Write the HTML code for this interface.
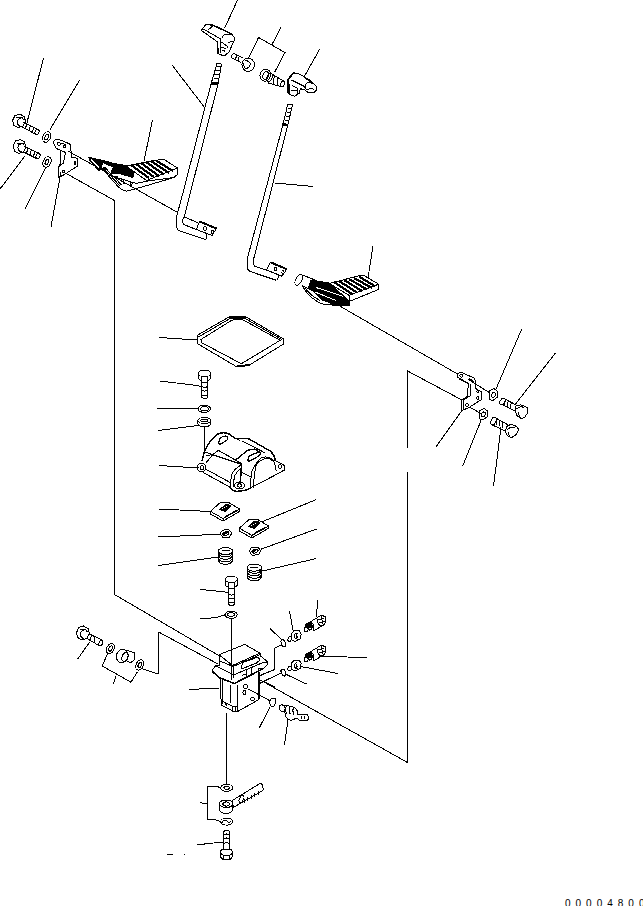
<!DOCTYPE html>
<html><head><meta charset="utf-8"><style>
html,body{margin:0;padding:0;background:#fff;width:643px;height:906px;overflow:hidden}
svg{display:block}
.t{position:absolute;left:565px;top:898.5px;font-family:"Liberation Sans",sans-serif;font-size:10px;line-height:10px;letter-spacing:5px;color:#000;white-space:nowrap}
</style></head><body>
<svg width="643" height="906" viewBox="0 0 643 906" fill="none" stroke="#000" stroke-width="1" stroke-linejoin="round" shape-rendering="crispEdges">
<g id="lines">
<polyline points="63.5,172 114.5,200.5 114.5,594.5 219.5,656"/>
<polyline points="68,151 177.8,212.5"/>
<polyline points="334.5,303 457.5,374"/>
<polyline points="462,400 407.5,371 407.5,447.5"/>
<polyline points="407.5,472 407.5,762.5 258.5,679"/>
<polyline points="141,668.5 158.5,674 158.5,632 218,664"/>
</g>
<g id="leaders">
<line x1="43.5" y1="58" x2="27" y2="122.5"/>
<line x1="79.5" y1="80.5" x2="50" y2="129.5"/>
<line x1="25" y1="156" x2="0" y2="189"/>
<line x1="46" y1="167" x2="25" y2="209"/>
<line x1="61" y1="172" x2="51" y2="227"/>
<line x1="152.5" y1="120" x2="144" y2="161"/>
<line x1="172" y1="65" x2="205" y2="108"/>
<line x1="237.5" y1="0" x2="224.5" y2="28.5"/>
<line x1="281" y1="27.5" x2="272" y2="44.5"/>
<polyline points="248.5,58.5 258.5,37.5 285,52.5 274.5,72.5"/>
<line x1="319.5" y1="49.5" x2="304" y2="77"/>
<line x1="274.5" y1="183" x2="313" y2="186.5"/>
<line x1="373" y1="246" x2="368" y2="278"/>
<line x1="521.5" y1="329.5" x2="496" y2="389"/>
<line x1="555.5" y1="353" x2="515.5" y2="404"/>
<line x1="462" y1="410.5" x2="435.5" y2="447.5"/>
<line x1="481" y1="420.5" x2="462.5" y2="466.5"/>
<line x1="501" y1="427" x2="493.5" y2="486.5"/>
<line x1="159.5" y1="337.5" x2="197.5" y2="340"/>
<polyline points="160,381 197,385.5 201.7,386.5"/>
<line x1="157" y1="408.5" x2="198.5" y2="408.5"/>
<line x1="158.5" y1="430.5" x2="198.5" y2="425.5"/>
<line x1="159.5" y1="465.5" x2="198.5" y2="468"/>
<line x1="204.5" y1="427" x2="204.5" y2="452"/>
<line x1="158.5" y1="509" x2="210.5" y2="511.5"/>
<line x1="316.5" y1="499.5" x2="261.5" y2="522"/>
<line x1="158.5" y1="537" x2="220.2" y2="534.2"/>
<line x1="316.5" y1="529" x2="260.5" y2="549.4"/>
<line x1="158.5" y1="565.5" x2="218.1" y2="557"/>
<line x1="316.5" y1="558.5" x2="261.6" y2="571.2"/>
<polyline points="200.5,589.5 221,591.5 228.4,592.5"/>
<polyline points="200.5,619 216,617.5 225.2,614.8"/>
<line x1="231.5" y1="618.5" x2="231.5" y2="680"/>
<line x1="77.5" y1="659.2" x2="89.9" y2="641.8"/>
<polyline points="107.3,654.2 102.3,666 130.9,682.2 137.2,672.2"/>
<line x1="116" y1="676" x2="113.5" y2="684"/>
<line x1="189" y1="689.5" x2="219.5" y2="688"/>
<polyline points="270,628.5 282.5,640.5"/><polyline points="281.5,645.1 275,647.9 274.5,669.5 259.5,675.5"/>
<line x1="289.5" y1="611" x2="293.2" y2="631.1"/>
<line x1="317.5" y1="600" x2="316.6" y2="617.3"/>
<line x1="301" y1="666.6" x2="338" y2="673.5"/>
<line x1="318.8" y1="656.3" x2="367.5" y2="657.5"/>
<line x1="285.3" y1="674" x2="306.5" y2="684"/><line x1="275" y1="675.9" x2="281.5" y2="673.1"/>
<line x1="270" y1="706.8" x2="259.2" y2="728.2"/><line x1="269.9" y1="700.3" x2="255" y2="692.8"/>
<line x1="288.1" y1="718.9" x2="284.5" y2="745"/>
<line x1="226.5" y1="713" x2="226.5" y2="784.5"/>
<polyline points="220.7,787.5 214.2,786 207.5,786 207.5,819.1 217.4,820.2 222.3,822.9"/>
<line x1="200" y1="802.8" x2="207.5" y2="803.5"/>
<polyline points="197,844.5 204,844.5 204,843.5 223.4,842.5"/>
<line x1="167" y1="854.5" x2="173" y2="854.5"/>
<line x1="184" y1="854.5" x2="185" y2="854.5"/>
</g>
<g id="parts">

<!-- top-left bolts -->
<path d="M12.5,120.5 L15,115.5 L20,114 L24,116.5 L25.5,121 L23,126 L18,127.5 L14,125.5 Z"/>
<path d="M21.5,118.5 Q17.5,118 17.5,122 Q17.5,126 21,126.5 M16,117.5 L22,117.5 L24,120"/>
<path d="M23.5,122 L38,129.5 M21.5,126.5 L36,134.5"/>
<ellipse cx="37" cy="132" rx="2" ry="2.6" transform="rotate(25 37 132)"/>
<path d="M27,123.5 Q25.5,127 26,129 M30.5,125.5 Q29,128.5 29.5,131 M34,127.5 Q32.5,130.5 33,133"/>
<path d="M13,146 L15.5,141 L20.5,139.5 L24.5,142 L26,147 L23.5,152 L18.5,153.5 L14.5,151 Z"/>
<path d="M22,144 Q18,143.5 18,147.5 Q18,151.5 21.5,152 M16.5,143 L22.5,143 L24.5,145.5"/>
<path d="M24.5,146.5 L38.5,153 M23.5,152 L37.5,159"/>
<ellipse cx="38" cy="156" rx="2" ry="2.8" transform="rotate(25 38 156)"/>
<path d="M28,148.5 Q26.5,152 27,154 M31.5,150 Q30,153 30.5,156 M35,151.5 Q33.5,154.5 34,157.5"/>
<ellipse cx="46.7" cy="137" rx="3.8" ry="5.5" transform="rotate(25 46.7 137)"/>
<ellipse cx="46.7" cy="137" rx="1.6" ry="3" transform="rotate(25 46.7 137)"/>
<ellipse cx="47" cy="162" rx="3.8" ry="5.5" transform="rotate(25 47 162)"/>
<ellipse cx="47" cy="162" rx="1.6" ry="3" transform="rotate(25 47 162)"/>

<!-- pedal 1 -->
<path d="M88.7,157.4 L103.7,160.6 L113.7,163.4 L126.1,165.6 L135,168 L133,177.5 L120,173.7 L112,173 L111.5,170.5 L113.7,167.4 L103.1,162.5 L101,168 L99,170.5 L90,161 Z" fill="#000"/>
<path d="M103.1,162.5 L113.7,167.4 Q111,170 111.8,173.5"/>
<path d="M91,159.5 L99,167.5" stroke="#fff" stroke-width="1"/>
<path d="M126,166 L160.5,159.5 L164,159.5 L177.5,168 L178,174 L174,177.5 L148,181 L146.5,180.5 Z" fill="#fff"/>
<path d="M126,166 L146.5,180.5 L177.5,168"/>
<path d="M101.6,167.9 L118.7,187.3 Q122,190.5 126.4,191.2 L132.7,189.7 L174,177.5"/>
<path d="M103,167.5 L120,186 M104.5,167 L121.5,185" stroke-width="1"/>
<path d="M107.8,174.9 L136,183.4 L148,181 M109.3,175.7 L117.9,176.4"/>
<path d="M123.5,180.5 L124,184 L126.5,182.5 M130,182 L131,185.5 L133,183" stroke-width="1"/>
<g stroke-width="2.2">
<path d="M131,165 L149,178 M136,164 L154,177 M141,163 L159,176 M146,162 L164,174.5 M151,161 L169,173 M156,160.5 L173,171"/>
</g>
<!-- rod 1 -->
<path d="M211,84 L182.4,195 L177.8,212 L176.2,218 L176.6,227 Q177.5,230.5 180,231 L205.8,239.5"/>
<path d="M218,84 L189.8,195 L184.4,216 Q181,221 183.6,224.5 L196.4,229.5"/>
<path d="M184,216.8 L199.5,223.5"/>
<path d="M199.5,221.5 L216.5,228.5 L212,235.5 L196.4,229.5 Z"/>
<path d="M199.5,221.5 L216.5,228.5" stroke-width="2"/>
<path d="M207,234 L206,239.5"/>
<ellipse cx="205" cy="228.5" rx="1.3" ry="1.8"/>
<ellipse cx="212.5" cy="232" rx="1.2" ry="1.8"/>
<path d="M211,84 L218,84 L221.5,64.5 Q219.5,62.5 217,63.5 Z"/>
<path d="M212,82 L218,82.5 M216.5,66 L220.5,67 M215.5,70 L220,71 M214.5,74 L219,75 M214,78 L218.5,79" />
<path d="M211,82.5 L217.5,84" stroke-width="2"/>
<!-- rod 2 -->
<path d="M282.8,125.3 L253.6,235 L247.4,258.3 L247.4,267.7 Q248,271 250.1,271.5 L275.8,280.1"/>
<path d="M287.7,125.3 L259.8,235 L253.6,259.1 L253.6,264.5 L254.4,266.1 L266.4,270"/>
<path d="M270.3,262.2 L286.7,269.2 L282,276.2 L266.4,270 Z"/>
<path d="M270.3,262.2 L286.7,269.2" stroke-width="2"/>
<path d="M278.5,275.5 L277.5,280"/>
<ellipse cx="275.5" cy="269" rx="1.3" ry="1.8"/>
<ellipse cx="283" cy="272.5" rx="1.2" ry="1.8"/>
<path d="M282.8,125.3 L287.7,125.3 L292.5,105 Q290,103.5 287.7,104.5 Z"/>
<path d="M288,108 L292,108.5 M287,112 L291,113 M286,116 L290,117 M285,120 L289,121"/>
<path d="M282.5,123.5 L287.7,125" stroke-width="2"/>
<!-- knob 1 -->
<path d="M201.2,30.6 L205.9,24.4 L209.5,24.4 L213.6,25.6 L223.6,30 L228.4,32.7 L231.9,34.2 L234.3,37.7 L234.3,40.1 L229,51.9 L224.8,55.5 L220.7,54.9 L217.7,53.1 L217.4,41.9 L205.9,33.6 Z" fill="#fff"/>
<path d="M205.9,24.4 L209.5,24.4 L213.6,25.6 L223.6,30 L231.9,34.2" stroke-width="1.7"/>
<path d="M203,28.9 L220.7,38.9 M208.3,29.8 L213,25.9"/>
<path d="M221.9,38.3 Q223,35 225.4,34.2 L231.9,34.2"/>
<path d="M217.5,42 L217.7,53.1" stroke-width="1.8"/>
<path d="M220.7,39 L220.7,53" stroke-width="1.5"/>
<path d="M221.5,42 L227.5,46.5 L227,48 M221.5,47.5 L226.5,48.5 M222,51 Q223.5,49.5 225,51.5"/>
<path d="M228.5,43 Q230,41.5 233,41.5"/>
<!-- small bolt 1 -->
<path d="M243,58 L234,53.5 Q231,54.5 232,58 L241,62.5"/>
<path d="M236.5,55.5 L235.5,59.5 M239,57 L238,61"/>
<ellipse cx="248.2" cy="64.8" rx="6.3" ry="6.6"/>
<path d="M245,61 Q249,60 250.5,64 Q249.5,68 246,68.5 M243,62.5 Q243.5,68 247,69"/>
<!-- bolt 2 flanged -->
<ellipse cx="265.3" cy="75.2" rx="5.2" ry="6" transform="rotate(20 265.3 75.2)"/>
<ellipse cx="265.8" cy="75.5" rx="2.8" ry="4" transform="rotate(20 265.8 75.5)"/>
<ellipse cx="269.5" cy="77.5" rx="2.5" ry="4.3" transform="rotate(20 269.5 77.5)"/>
<path d="M270.2,73 L283.8,81.2 M268.1,82.9 L281.1,86.7"/>
<ellipse cx="282.5" cy="84" rx="1.8" ry="2.8" transform="rotate(20 282.5 84)"/>
<path d="M274.5,76 Q273,80 274,84 M278,78 Q276.5,82 277.5,85.5"/>
<!-- knob 2 -->
<path d="M287.3,80.4 L293.4,73.2 L298.5,73.5 L310.6,80.7 L316.4,86.4 L316.4,89.9 L314.1,92.2 L308.3,92.7 L304.9,89.9 L300.3,88.7 L299.1,93.3 L294.5,96.2 L289.9,94.5 L287.3,92.2 Z" fill="#fff"/>
<path d="M287.3,80.4 L293.4,73.2 L298.5,73.5" stroke-width="1.6"/>
<path d="M287.5,80 L287.5,92.5" stroke-width="2"/>
<path d="M289,77.5 L293.5,73.8"/>
<path d="M291.6,80.1 L305.4,87 L304.9,89.9 M304.5,88 Q305,83 309.5,82 Q314,83 316.4,86.4"/>
<path d="M304.5,77 L312,83" stroke-width="1.6"/>
<path d="M289.5,84 L290,93.5 M292,85.5 L298,88.5 L297,94 M291.5,90 L296.5,91"/>
<path d="M306.5,90 L311,88 L314,89.5" />
<!-- pedal 2 -->
<path d="M311,280 L329,283 L349,295 L349,305.5 L336,305 L322,300 L313,291 L308,288.5 Z" fill="#000"/>
<path d="M316,287.5 L347,297.5 M315,292 L336,300.5" stroke="#fff" stroke-width="1"/>
<path d="M329.2,283.5 L360.9,275.3 L364,275.5 L378.7,284.2 L378.7,289.4 L349.1,301.5 L346,298 Z" fill="#fff"/>
<path d="M329.2,283.5 L349.1,295.3 L378.7,284.2 M349.1,295.3 L349.1,301.5"/>
<ellipse cx="298.8" cy="279.9" rx="3" ry="5.8" transform="rotate(30 298.8 279.9)" fill="#fff"/>
<path d="M300,274.1 L315.4,280.1 M302.3,285.7 L308,288.5 M307.9,288.5 L311.7,282.9"/>
<path d="M302.3,285.7 Q308,296 313.5,298.8 Q318,303 323.8,304.4 L336.8,305.3 L349.1,301.5"/>
<path d="M305,288 Q311,296 320,300.5" stroke-width="1"/>
<g stroke-width="2.2">
<path d="M334,282 L352,294 M339,281 L357,292.5 M344,280 L362,291 M349,279 L367,289.5 M354,278 L372,288 M359,276.5 L375.5,286.5"/>
</g>
<!-- right bracket -->
<path d="M457.3,376.9 Q457.5,372 461,372.3 L474.5,378.2 L475.8,383.5 L475.1,388.1 L481.7,392.1 L481.7,399.4 L469.2,407.3 L461.9,410.6 L461.2,400 L467.2,396.7 L468.5,383.5 Z"/>
<path d="M459,379 L468.5,383.5 M470.5,384.5 L470,396 L463.5,400 L463.5,409.5"/>
<ellipse cx="461.2" cy="375.6" rx="1.3" ry="1.6"/>
<ellipse cx="477.8" cy="391.4" rx="1" ry="1.5"/>
<ellipse cx="477.8" cy="398" rx="1" ry="1.5"/>
<ellipse cx="467" cy="405" rx="1.2" ry="1.4"/>
<path d="M468.5,379.5 L489.7,392.8 M469.8,407.3 L481.7,413.9"/>
<path d="M469,379 L474,382" stroke-width="2"/>
<path d="M489.5,391 L494,388.5 L497.5,391.5 L497.5,397 L493,400.5 L489,399.5 Z"/>
<ellipse cx="493.4" cy="395" rx="1.8" ry="2.6" transform="rotate(25 493.4 395)"/>
<path d="M479.5,411 L484,408.5 L487.5,411 L487.5,416.5 L483,420 L479,418.5 Z"/>
<ellipse cx="483.3" cy="414.5" rx="1.8" ry="2.6" transform="rotate(25 483.3 414.5)"/>
<!-- right bolts -->
<ellipse cx="502.5" cy="401.5" rx="2.3" ry="3.6" transform="rotate(30 502.5 401.5)"/>
<path d="M503.7,398.4 L516.7,405.3 M501.7,404.2 L515.4,411.1"/>
<path d="M505.5,399.5 Q504,402.5 505,405.5 M508.5,401 Q507,404 508,407 M511.5,402.5 Q510,405.5 511,408.5"/>
<path d="M516.1,405.3 L520.9,404.9 L527,407.3 L527.7,412.8 L525,416.9 L521.5,418.6 L517.4,416.2 L515.4,412.1 Z" fill="#fff"/>
<path d="M516.5,409 L520.5,406.5 L524.5,407.5 M518.5,412 L519.5,417"/>
<ellipse cx="493.5" cy="421" rx="2.4" ry="4" transform="rotate(25 493.5 421)"/>
<path d="M494.2,417.2 L508.5,425.1 M492.5,425 L506,431.5"/>
<path d="M497,418.5 Q495.5,421.5 496.5,425 M500,420 Q498.5,423 499.5,426.5 M503,421.5 Q501.5,424.5 502.5,428"/>
<path d="M506.5,426.5 L511.3,424.1 L516.7,426.5 L518.8,429.9 L516.1,434.7 L511.3,437.8 L507.8,436.1 L505.5,432 Z" fill="#fff"/>
<path d="M507,429.5 L511,427 L515,428 M508.5,432.5 L509.5,437"/>
<!-- gasket -->
<path d="M197,341 L197.8,335 L228.9,317 L246,317 L283.3,338.8 L283.3,344.2 L249.1,365.2 L236.7,366.8 L197,343.4 Z"/>
<path d="M200.9,339.5 L232,320.1 L242.1,319.3 L280.2,340.3 L241.3,363.7 L201.7,342.7 Z"/>
<path d="M198.5,337 L230,318.5 L244.5,318.2 L282,339.5" stroke-width="1"/>
<path d="M229,317 L246,317" stroke-width="1.5"/>
<path d="M237,366.5 L249,365" stroke-width="2"/>
<!-- middle bolt -->
<ellipse cx="204.5" cy="373.4" rx="6" ry="3.3"/>
<path d="M198.5,373.4 L198.5,378.5 Q199,380.5 201.7,380.5 M210.5,373.4 L210.5,378.5 Q210,380.5 207.7,380.5"/>
<path d="M201.7,377 L201.7,397.5 Q204.7,399.5 207.7,397.5 L207.7,377"/>
<path d="M201.7,381.8 Q204.7,383.5 207.7,381.8 M201.7,386.5 Q204.7,388.2 207.7,386.5 M201.7,390.2 Q204.7,392 207.7,390.2 M201.7,394.9 Q204.7,396.6 207.7,394.9"/>
<!-- washers -->
<ellipse cx="204.2" cy="408.8" rx="6.3" ry="3.6"/>
<ellipse cx="204.5" cy="408.8" rx="3.8" ry="2.2"/>
<ellipse cx="204.2" cy="420.5" rx="6.3" ry="3"/>
<ellipse cx="204.2" cy="420.5" rx="3.5" ry="1.5"/>
<path d="M197.9,420.5 L197.9,424 Q199,426.8 204.2,426.8 Q209.5,426.8 210.5,424 L210.5,420.5"/>
<!-- cover -->
<path d="M202,461 C204,450 209,440 218,434 Q224,431.5 229,434 L235.4,438.3 L240,438.7 L247.8,438.3 L270.9,451.5 Q274.5,455 275.2,460.5" stroke-width="1.4"/>
<path d="M241.8,440.8 L264.9,452.8 M236,438.5 L240,440.5"/>
<path d="M219,441.5 Q218,444.5 221,444 L227,440 Q229,436.5 226,436 L222,437 Q219,438.5 219,441.5 Z" stroke-width="1.2"/>
<path d="M248,459 Q247.5,461.5 250,461 L259.5,455.5 Q261.5,452.5 258.5,452.5 L252,454.5 Q248.5,456 248,459 Z" stroke-width="1.2"/>
<path d="M235,460.5 L247.8,450.2 L254.7,449 L260.7,452.8" stroke-width="1.3"/>
<path d="M205.1,452.1 L241.7,464.5 M212.9,454.4 L218.3,450.5 L224.5,453.7 L241.8,463.9" stroke-width="1.1"/>
<path d="M205.6,455.8 L212.9,454.4 M213,454.5 L205.5,463.5"/>
<path d="M205.9,469.2 L230,482.4 M202.8,472.3 L230,487.1"/>
<ellipse cx="201.6" cy="467.6" rx="4.2" ry="4.4"/>
<ellipse cx="202" cy="467.6" rx="1.8" ry="2"/>
<path d="M230,487 L231.5,474.7 Q234,469 241.7,464.5"/>
<path d="M233,487 L234.5,476 Q237,471 241.7,468"/>
<path d="M250.4,487.9 L251.3,473.3 Q253,466 260.7,458 Q266,455.5 271.8,458.8 Q275,462 276.1,470.8"/>
<path d="M253,487.9 L255.5,466.5 Q258,461 262.4,459.7 Q266,458 269.2,458.8 Q271.5,459.5 272.6,461.4"/>
<path d="M275.2,460.5 L284.6,465.6 L284.6,469.9 L278.6,473.3 L250.4,488"/>
<ellipse cx="280" cy="466.5" rx="1.6" ry="2"/>
<path d="M241.7,463.8 L240.1,484" stroke-width="1.6"/>
<path d="M241.8,472.5 L250.4,476.8"/>
<path d="M230,487.1 Q232,491.5 237,491.3 L245,490.5 L250.4,488" stroke-width="1.4"/>
<ellipse cx="239.5" cy="485.5" rx="4.8" ry="3.3"/>
<ellipse cx="239.5" cy="485.5" rx="2.2" ry="1.6"/>
<!-- plates nuts springs -->
<g transform="translate(0 0)">
<path d="M210.4,511.3 L220.2,502.6 L227.9,502.1 L239.8,509.2 L239.8,511.3 L223,521.1 L210.4,514 Z" fill="#fff"/>
<path d="M210.4,511.3 L223,518.5 L239.8,509.2 M223,518.5 L223,521.1"/>
<path d="M220,509.5 L226,504 L231,505.5 L225,511.5 Z" fill="#000"/>
<path d="M222.5,509 L227.5,505.5" stroke="#fff" stroke-width="1" stroke-dasharray="1 1"/>
<path d="M225,516.5 L236.5,510.5" stroke-width="1"/>
</g><g transform="translate(28.9 16.9)">
<path d="M210.4,511.3 L220.2,502.6 L227.9,502.1 L239.8,509.2 L239.8,511.3 L223,521.1 L210.4,514 Z" fill="#fff"/>
<path d="M210.4,511.3 L223,518.5 L239.8,509.2 M223,518.5 L223,521.1"/>
<path d="M220,509.5 L226,504 L231,505.5 L225,511.5 Z" fill="#000"/>
<path d="M222.5,509 L227.5,505.5" stroke="#fff" stroke-width="1" stroke-dasharray="1 1"/>
<path d="M225,516.5 L236.5,510.5" stroke-width="1"/>
</g><path d="M220.20000000000002,533.6 L222.4,530.1 L228.9,529.6 L231.70000000000002,533.1 L229.4,537.4 L222.9,537.6 Z"/>
<path d="M222.9,535.1 L227.9,531.6" stroke-width="1.8"/>
<ellipse cx="225.9" cy="533.6" rx="3.2" ry="1.8" transform="rotate(-20 225.9 533.6)"/><path d="M249.20000000000002,551.1 L251.4,547.6 L257.9,547.1 L260.7,550.6 L258.4,554.9 L251.9,555.1 Z"/>
<path d="M251.9,552.6 L256.9,549.1" stroke-width="1.8"/>
<ellipse cx="254.9" cy="551.1" rx="3.2" ry="1.8" transform="rotate(-20 254.9 551.1)"/><ellipse cx="225.5" cy="551.1" rx="7.2" ry="3.6"/>
<path d="M221.5,550.6 L229.5,550.6"/>
<path d="M218.3,551.1 Q218.0,554.6 221.5,556.2 Q225.5,557.4 229.5,556.2 Q233.0,554.6 232.7,551.1"/>
<path d="M218.3,553.6 Q218.0,557.1 221.5,558.7 Q225.5,559.9 229.5,558.7 Q233.0,557.1 232.7,553.6"/>
<path d="M218.3,556.1 Q218.0,559.6 221.5,561.2 Q225.5,562.4 229.5,561.2 Q233.0,559.6 232.7,556.1"/>
<path d="M218.3,558.6 Q218.0,562.1 221.5,563.7 Q225.5,564.9 229.5,563.7 Q233.0,562.1 232.7,558.6"/>
<ellipse cx="254.3" cy="567.6" rx="7.2" ry="3.6"/>
<path d="M250.3,567.1 L258.3,567.1"/>
<path d="M247.1,567.6 Q246.8,571.1 250.3,572.7 Q254.3,573.9 258.3,572.7 Q261.8,571.1 261.5,567.6"/>
<path d="M247.1,570.1 Q246.8,573.6 250.3,575.2 Q254.3,576.4 258.3,575.2 Q261.8,573.6 261.5,570.1"/>
<path d="M247.1,572.6 Q246.8,576.1 250.3,577.7 Q254.3,578.9 258.3,577.7 Q261.8,576.1 261.5,572.6"/>
<path d="M247.1,575.1 Q246.8,578.6 250.3,580.2 Q254.3,581.4 258.3,580.2 Q261.8,578.6 261.5,575.1"/>

<!-- valve body -->
<path d="M212.6,669.4 L215.9,665.6 L219,666 L219,654.7 L244.7,644.4 L260,653.1 L260.5,656 L267.6,661.8 L267.6,664.5 L263.8,668.3 L258.3,669 L258.3,699.9 L237.1,711.8 L234.4,711.8 L221.3,705.3 L220.2,679.2 L219.2,677.6 L212.6,671.6 Z" fill="#fff"/>
<path d="M219,654.7 L244.7,644.4 L260,653.1 L232.5,665.5 Z"/>
<path d="M219.2,660.7 L233,666.5 L260.5,654.5 M233,666.5 L233.5,678"/>
<path d="M215.9,665.6 L219.2,667.5 L233.5,675 L262,663 L267.6,661.8" stroke-width="1"/>
<path d="M212.6,671.6 L219.2,677.6 L234.4,683.5 L263.8,668.3" stroke-width="1.6"/>
<path d="M220.2,679.2 L221.3,705.3 L234.4,711.8 L237.1,711.8 L258.3,699.9 L258.3,669"/>
<path d="M237.1,684.6 L237.1,711.8" stroke-width="1.2"/>
<path d="M222.5,680 L222.5,704" stroke-width="1"/>
<path d="M230.6,684.6 L230.6,703" stroke-width="1.3"/>
<path d="M221.3,700.5 L234.4,707 L237.1,706.5 M225,703 L227,706 M232,706 L232,711.5 M235,706.5 L235,711.5"/>
<path d="M258.9,671.6 L258.9,698.8" stroke-width="2"/>
<path d="M241,668 L243,662.5 L258,657 L260,660 L256.5,663 L244,668 Z" stroke-width="1"/>
<path d="M246.5,669.5 L247,677 M251,667.5 L251.5,675.5 M242,675.5 L247,673.5" stroke-width="1"/>
<ellipse cx="245.5" cy="686.5" rx="1.8" ry="2.3"/>
<ellipse cx="244.5" cy="692.5" rx="1.5" ry="2"/>
<ellipse cx="252.5" cy="699" rx="2" ry="1.4"/>
<path d="M259.4,675.9 L275,669.4 M259.4,683.5 L275,675.9 M248.5,689 L270.3,701 M260.5,680.3 L275,686.8"/>


<!-- sensors & fittings -->
<line x1="231.5" y1="644" x2="231.5" y2="680"/>
<g transform="translate(0 0)">
<path d="M305.5,624.5 L310.5,621.8 L313,627 L309.5,630.5 L305.5,628 Z" fill="#000"/>
<ellipse cx="306.2" cy="629.4" rx="1.9" ry="2.3" fill="#fff"/>
<ellipse cx="310" cy="628.5" rx="1.4" ry="1.6" fill="#fff"/>
<path d="M310.3,621.8 L316.8,618 M313.5,631 L324.4,624.5 M311.5,622 Q314.8,625.5 313.5,631"/>
<path d="M316.8,618 L321,615.2 L325,616.5 L326,621.5 L324.4,624.5 L320,626 L318,623 Z" fill="#fff"/>
<path d="M318,620 L324,618.5 M319,623 L325,621.5 M321.5,616 L322.5,624"/>
</g>
<g transform="translate(0 30)">
<path d="M305.5,624.5 L310.5,621.8 L313,627 L309.5,630.5 L305.5,628 Z" fill="#000"/>
<ellipse cx="306.2" cy="629.4" rx="1.9" ry="2.3" fill="#fff"/>
<ellipse cx="310" cy="628.5" rx="1.4" ry="1.6" fill="#fff"/>
<path d="M310.3,621.8 L316.8,618 M313.5,631 L324.4,624.5 M311.5,622 Q314.8,625.5 313.5,631"/>
<path d="M316.8,618 L321,615.2 L325,616.5 L326,621.5 L324.4,624.5 L320,626 L318,623 Z" fill="#fff"/>
<path d="M318,620 L324,618.5 M319,623 L325,621.5 M321.5,616 L322.5,624"/>
</g>
<g transform="translate(0 0)">
<ellipse cx="289.8" cy="639" rx="1.8" ry="2.4" transform="rotate(30 289.8 639)"/>
<path d="M291,634 L294.5,630.5 L299,630.5 L301.2,634 L300,639 L295.5,641.5 L292,640 Z" fill="#fff"/>
<path d="M297.5,633 Q294,633.5 294.5,637 Q295,639.5 298,639"/>
<path d="M296.5,634.5 L297,638" stroke-width="1.5"/>
</g>
<g transform="translate(0 29.5)">
<ellipse cx="289.8" cy="639" rx="1.8" ry="2.4" transform="rotate(30 289.8 639)"/>
<path d="M291,634 L294.5,630.5 L299,630.5 L301.2,634 L300,639 L295.5,641.5 L292,640 Z" fill="#fff"/>
<path d="M297.5,633 Q294,633.5 294.5,637 Q295,639.5 298,639"/>
<path d="M296.5,634.5 L297,638" stroke-width="1.5"/>
</g>
<ellipse cx="283.4" cy="643.2" rx="2.1" ry="3.6" transform="rotate(-20 283.4 643.2)"/>
<ellipse cx="283.4" cy="672.6" rx="2.1" ry="3.6" transform="rotate(-20 283.4 672.6)"/>


<!-- elbow & o-ring 3 -->
<path d="M271,706 Q268.5,702 270.5,699.5 Q273.5,697 275.5,698.5 Q276.5,702 274.5,705.5 Q272.5,707.5 271,706 Z"/>
<ellipse cx="282.1" cy="708.2" rx="2.8" ry="3.3" transform="rotate(-20 282.1 708.2)"/>
<path d="M283,705.5 Q288,705.5 292.3,706.8 Q296,707.5 297.9,712.4 L297.9,714.3 L307.5,715 Q309,716.5 308.6,719 L307.2,720.3 L299.8,720.3 L296,718 Q293.5,720.5 290,720 Q287,719.5 286,717 L284.5,711.5"/>
<path d="M286.5,706 Q284.5,710 287,714 M290,706.5 Q288,710.5 290.5,714.5 M293.5,707.5 Q292,711 294,714.5"/>
<path d="M301,716.5 L301.5,719 M304,716.5 L304.5,719"/>
<!-- left bolt, washers, union -->
<path d="M76.5,633 L78.5,627.5 L83.5,626 L88,628.5 L89.3,633.5 L87,638.5 L82,640 L77.5,637.5 Z"/>
<path d="M84.5,630.5 Q80.5,630 80.5,634 Q80.5,638 84,638.5 M79.5,629.5 L85.5,629.5 L87.5,632"/>
<path d="M88.7,633.7 L101.7,639.9 M87.4,638.7 L99.9,646.1"/>
<ellipse cx="100.8" cy="643" rx="1.8" ry="3" transform="rotate(25 100.8 643)"/>
<path d="M91.5,635.5 Q90,638.5 91,641 M95,637 Q93.5,640 94.5,643"/>
<ellipse cx="110.4" cy="648.6" rx="3.6" ry="5.4" transform="rotate(25 110.4 648.6)"/>
<ellipse cx="110.6" cy="648.6" rx="1.6" ry="2.8" transform="rotate(25 110.6 648.6)"/>
<ellipse cx="122.2" cy="656" rx="5.8" ry="6.8" transform="rotate(20 122.2 656)"/>
<ellipse cx="125" cy="657" rx="3" ry="4.5" transform="rotate(20 125 657)"/>
<path d="M126,652 L128,650.5 L134.5,653 L135,659.5 L131,662.5 L127,661.5"/>
<ellipse cx="139.7" cy="665" rx="3.6" ry="5.4" transform="rotate(25 139.7 665)"/>
<ellipse cx="139.9" cy="665" rx="1.6" ry="2.8" transform="rotate(25 139.9 665)"/>
<!-- bottom parts -->
<ellipse cx="226.7" cy="787.8" rx="6" ry="3.5"/>
<ellipse cx="226.7" cy="787.8" rx="2.8" ry="1.6"/>
<path d="M232.1,800.6 L260.4,783.2 Q263.5,784 263,790.5 L232.7,807.7"/>
<ellipse cx="241.5" cy="799" rx="2" ry="3.8" transform="rotate(25 241.5 799)"/>
<path d="M244.5,799.5 Q243.5,801.5 244.5,803 M248,797.5 Q247,799.5 248,801 M251.5,795.5 Q250.5,797.5 251.5,799 M255,793.5 Q254,795.5 255,797 M258.5,791.5 Q257.5,793.5 258.5,795" stroke-width="1"/>
<path d="M219.3,803.8 L219.3,808.5 Q220,813.6 226.1,813.6 Q232,813.6 232.9,808.5 L232.9,803.8"/>
<ellipse cx="226.1" cy="803.8" rx="6.8" ry="3.8"/>
<ellipse cx="226.1" cy="804" rx="3.3" ry="2.1"/>
<path d="M232.5,801 L232.7,807.7" stroke-width="1.8"/>
<ellipse cx="226.7" cy="821.6" rx="6" ry="3.5"/>
<path d="M222.5,821.5 Q225,819.5 227.5,821.5 Q229,823.5 231,821.5" stroke-width="1"/>
<path d="M223.4,849 L223.4,831.5 Q226.6,829.5 229.9,831.5 L229.9,849"/>
<path d="M224,835 Q226.6,833 229,835 M224,839 Q226.6,837 229,839 M224,843.5 Q226.6,841.5 229,843.5" stroke-width="1"/>
<path d="M220.1,851.5 L222.5,849 L230.5,849 L232.7,851.5 L232.7,856.5 L230,859.4 L223,859.4 L220.1,856.5 Z"/>
<path d="M220.1,853 L223.5,855.5 L229.5,855.5 L232.7,853 M223.5,855.5 L223,859.4 M229.5,855.5 L230,859.4" stroke-width="1"/>


<!-- valve bolt & washer -->
<ellipse cx="231.3" cy="579.3" rx="6.1" ry="3.1"/>
<path d="M225.2,579.3 L225.2,585.5 Q226,587 228.4,587 M237.4,579.3 L237.4,585 Q236.5,587 234.6,587"/>
<path d="M228.4,582 L228.4,604.5 Q231.5,606.5 234.6,604.5 L234.6,582"/>
<path d="M228.4,588 Q231.5,589.5 234.6,588 M228.4,594.3 Q231.5,595.8 234.6,594.3 M228.4,598 Q231.5,599.5 234.6,598 M228.4,601.7 Q231.5,603.2 234.6,601.7"/>
<ellipse cx="231.2" cy="614.7" rx="5.9" ry="3.7"/>
<ellipse cx="231.2" cy="614.5" rx="3.6" ry="1.8"/>

<!-- top-left bracket -->
<path d="M55,146 Q52,141 56,139.5 Q60,139 70.5,144.5 L71.5,157 L78,158.5 L77.5,166 L64.5,174.5 L58.5,177.5 L58.5,167 L63.5,163 L65.5,152.5 L60,150 Q56,149 55,146 Z"/>
<path d="M57,143 Q60,142 66,145 M60,150 L61,163 L58.5,167"/>
<ellipse cx="59" cy="144" rx="1.3" ry="1.8"/>
<ellipse cx="64.5" cy="146.5" rx="1.3" ry="1.5"/>
<ellipse cx="75" cy="163" rx="1" ry="1.5"/>
<ellipse cx="63.5" cy="171.5" rx="1.3" ry="1.3"/>
</g>
</svg>
<div class="t">00004800</div>
</body></html>
